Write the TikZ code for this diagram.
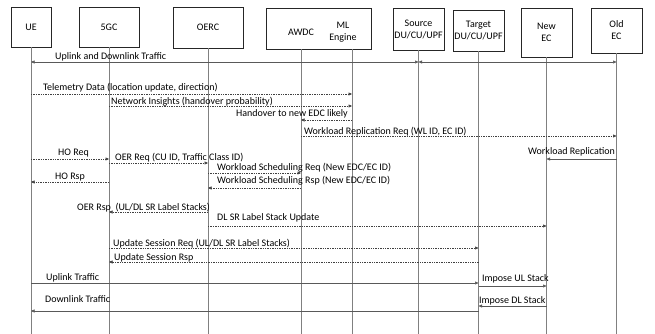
\documentclass[tikz,border=0pt]{standalone}
\usepackage{fontspec}
\setmainfont{Carlito}
\usepackage{tikz}
\usetikzlibrary{arrows.meta,positioning}

\begin{document}
\begin{tikzpicture}[x=1pt, y=-1pt,
            font=\fontsize{10}{12}\selectfont,
            actor/.style={draw=black!85, line width=0.6pt, rectangle, inner sep=1pt, align=center},
            txt/.style={inner sep=0pt, align=center},
            lifeline/.style={draw=black!50, line width=0.5pt},
            msg/.style={draw=black!65, line width=0.5pt, -{Triangle[length=3.5pt,width=3pt]}},
            dmsg/.style={msg, draw=black!75, dash pattern=on 1.4pt off 1pt},
            bimsg/.style={msg, {Triangle[length=3.5pt,width=3pt]}-{Triangle[length=3.5pt,width=3pt]}},
            lbl/.style={inner sep=0pt, anchor=base west}
            ]
            \useasboundingbox (0,0) rectangle (655,334);

            % Participants
            \node[actor, minimum width=40pt, minimum height=40pt] (ue) at (31,27) {UE};
            \node[actor, minimum width=60pt, minimum height=40pt] (gc) at (109,27) {5GC};
            \node[actor, minimum width=70pt, minimum height=41pt] (oerc) at (208,27.5) {OERC};
            \node[actor, minimum width=105pt, minimum height=41pt] (ctl) at (318.5,28.5) {};
            \node[txt] (awdc) at (301,32) {AWDC};
            \node[txt] (ml) at (343,32) {ML\\Engine};
            \coordinate (mlx) at (352,49);
            \node[actor, minimum width=51pt, minimum height=42pt] (src) at (418.5,29) {Source\\DU/CU/UPF};
            \node[actor, minimum width=51pt, minimum height=41pt] (tgt) at (478.5,30.5) {Target\\DU/CU/UPF};
            \node[actor, minimum width=51pt, minimum height=49pt] (newec) at (546.5,32.5) {New\\EC};
            \node[actor, minimum width=51pt, minimum height=45pt] (oldec) at (616.5,30.5) {Old\\EC};

            % Lifelines
            \coordinate (bottom) at (0,334);
            \foreach \n in {ue,gc,oerc,src,tgt,newec,oldec}
                \draw[lifeline] (\n.south) -- (\n.south |- bottom);
            \draw[lifeline] (awdc |- ctl.south) -- (awdc |- bottom);
            \draw[lifeline] (mlx) -- (mlx |- bottom);

            % Message rows
            \foreach \r/\y in {1/62, 2/94, 3/106, 4/120, 5/136, 6/159, 7/163, 8/173, 9/182, 10/188,
                               11/212, 12/226, 13/248, 14/262, 15/283, 16/286, 17/306, 18/311}
                \coordinate (r\r) at (0,\y);

            % Arrows
            \draw[bimsg] (ue |- r1) -- (src |- r1);
            \draw[bimsg] (src |- r1) -- (oldec |- r1);
            \draw[dmsg] (ue |- r2) -- (mlx |- r2);
            \draw[dmsg] (gc |- r3) -- (mlx |- r3);
            \draw[dmsg] (mlx |- r4) -- (awdc |- r4);
            \draw[dmsg] (awdc |- r5) -- (oldec |- r5);
            \draw[msg] (oldec |- r6) -- (newec |- r6);
            \draw[dmsg] (ue |- r6) -- (gc |- r6);
            \draw[dmsg] (gc |- r7) -- (oerc |- r7);
            \draw[dmsg] (oerc |- r8) -- (awdc |- r8);
            \draw[dmsg] (gc |- r9) -- (ue |- r9);
            \draw[dmsg] (awdc |- r10) -- (oerc |- r10);
            \draw[dmsg] (oerc |- r11) -- (gc |- r11);
            \draw[dmsg] (oerc |- r12) -- (newec |- r12);
            \draw[dmsg] (gc |- r13) -- (tgt |- r13);
            \draw[dmsg] (tgt |- r14) -- (gc |- r14);
            \draw[msg] (ue |- r15) -- (tgt |- r15);
            \draw[msg] (tgt |- r16) -- (newec |- r16);
            \draw[msg] (newec |- r17) -- (tgt |- r17);
            \draw[msg] (tgt |- r18) -- (ue |- r18);

            % Labels
            \node[lbl] (l1) at (55,59.5) {Uplink and Downlink Traffic};
            \node[lbl] (l2) at (43,90.5) {Telemetry Data (location update, direction)};
            \node[lbl] (l3) at (111,104.5) {Network Insights (handover probability)};
            \node[lbl] (l4) at (236,116.5) {Handover to new EDC likely};
            \node[lbl] (l5) at (304,134.5) {Workload Replication Req (WL ID, EC ID)};
            \node[lbl] (l6) at (528,154.5) {Workload Replication};
            \node[lbl] (l7) at (58,155.5) {HO Req};
            \node[lbl] (l8) at (115,160.5) {OER Req (CU ID, Traffic Class ID)};
            \node[lbl] (l9) at (217,170.5) {Workload Scheduling Req (New EDC/EC ID)};
            \node[lbl] (l10) at (55,179.5) {HO Rsp};
            \node[lbl] (l11) at (217,183.5) {Workload Scheduling Rsp (New EDC/EC ID)};
            \node[lbl] (l12) at (77,210.5) {OER Rsp\ \ (UL/DL SR Label Stacks)};
            \node[lbl] (l13) at (217,220.5) {DL SR Label Stack Update};
            \node[lbl] (l14) at (113,246.5) {Update Session Req (UL/DL SR Label Stacks)};
            \node[lbl] (l15) at (114,260.5) {Update Session Rsp};
            \node[lbl] (l16) at (46,280.5) {Uplink Traffic};
            \node[lbl] (l17) at (482,281.5) {Impose UL Stack};
            \node[lbl] (l18) at (479,303.5) {Impose DL Stack};
            \node[lbl] (l19) at (45,302.5) {Downlink Traffic};
\end{tikzpicture}
\end{document}
